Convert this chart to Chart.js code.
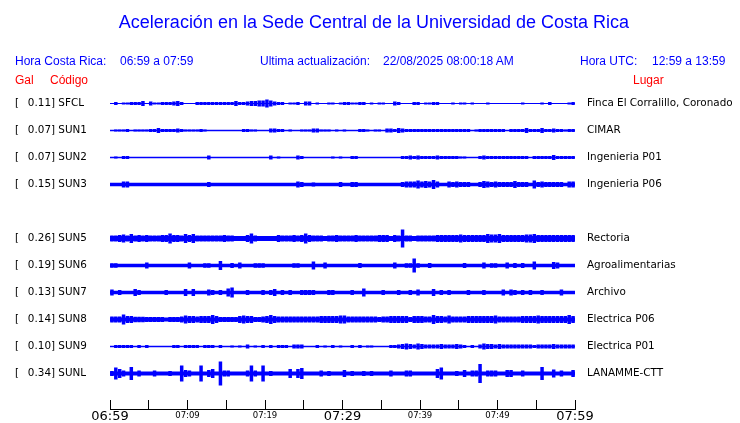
<!DOCTYPE html>
<html><head><meta charset="utf-8">
<script src="https://cdn.jsdelivr.net/npm/chart.js@4"></script>
<style>
html,body{margin:0;padding:0;background:#fff;overflow:hidden;width:740px;height:423px}
#wrap{position:relative;width:740px;height:423px;overflow:hidden;background:#fff}
canvas{position:absolute;left:0;top:0}
.t{position:absolute;font-family:"Liberation Sans",Arial,sans-serif;white-space:pre;color:#0000ff;font-size:12px;line-height:12px}
.r{color:#ff0000}
</style></head><body><div id="wrap">
<canvas id="c" width="740" height="433"></canvas>
<div class="t" style="left:0;width:748px;text-align:center;top:13px;font-size:18px;line-height:18px">Aceleración en la Sede Central de la Universidad de Costa Rica</div>
<div class="t" style="left:15px;top:55px">Hora Costa Rica:</div>
<div class="t" style="left:120px;top:55px">06:59 a 07:59</div>
<div class="t" style="left:260px;top:55px">Ultima actualización:</div>
<div class="t" style="left:383px;top:55px">22/08/2025 08:00:18 AM</div>
<div class="t" style="left:580px;top:55px">Hora UTC:</div>
<div class="t" style="left:652px;top:55px">12:59 a 13:59</div>
<div class="t r" style="left:15px;top:74px">Gal</div>
<div class="t r" style="left:50px;top:74px">Código</div>
<div class="t r" style="left:633px;top:74px">Lugar</div>
</div>
<script>
// ---- data ----
const codes  = ['SFCL','SUN1','SUN2','SUN3','SUN5','SUN6','SUN7','SUN8','SUN9','SUNL'];
const places = ['Finca El Corralillo, Coronado','CIMAR','Ingenieria P01','Ingenieria P06','Rectoria','Agroalimentarias','Archivo','Electrica P06','Electrica P01','LANAMME-CTT'];
const gal    = [0.11,0.07,0.07,0.15,0.26,0.19,0.13,0.14,0.10,0.34];
const rows   = [0,1,2,3,5,6,7,8,9,10];           // row of each station (row 4 empty)
const noiseFloor = [0.5,0.75,0.75,1.7,2.5,1.8,1.8,2,0.7,2];
const timeLabels = ['06:59','07:09','07:19','07:29','07:39','07:49','07:59'];
const binMinutes = 0.5;  // envelope bins of 30 s over 60 minutes

const ampSFCL = [0,1.5,0,1,1,1.5,1.5,1.5,2.5,0,
 2,1,1,1.5,1.5,1.5,2,2.5,1.5,0,
 0,0,1.5,1.5,1.5,1.5,1.5,1.5,1.5,1.5,
 1.5,1.5,2.5,1.5,1.5,2,2.5,2.5,3,3,
 4,3,2,1.5,1.5,0,1,1,1.5,0,
 2,2,0,1,0,0,1,1,0,1,
 1.5,1.5,1,1,1.5,1.5,0,1,0,1,
 1,0,0,2,1.5,0,0,0,1.5,1.5,
 0,1,1,1.5,1.5,0,0,0,1,0,
 1,1,0,1,0,0,0,1,0,0,
 0,0,0,0,0,0,1,0,0,0,
 0,1,0,1.5,0,0,0,0,1,1.5];
const ampSUN1 = [0,1,1,1,1.5,0,1,1,1,1,
 1.5,1.5,2.5,1.5,1.5,1.5,1.5,2,1.5,1,
 1,1,1,1.5,1,0,0,0,0,0,
 0,0,0,0,1.5,1.5,1,1,0,0,
 0,2,2,1.5,1.5,0,1,0,0,1,
 1,1,2,2,1,1,1,0,1,0,
 1,0,0,0,1.5,1.5,1,0,1,1,
 0,2,2,1.5,2.5,2,1.5,1.5,1.5,1.5,
 1.5,1.5,1.5,1.5,1.5,1.5,1.5,1.5,1.5,1.5,
 1.5,1.5,1.5,0,1,1.5,1.5,1.5,1.5,1.5,
 1.5,1.5,0,1.5,1.5,1.5,1.5,2.5,1.5,1.5,
 1.5,2.5,1.5,1.5,2,1.5,1.5,1,1.5,1.5];
const ampSUN2 = [0,1,0,1.5,1.5,0,0,0,0,0,
 0,0,0,0,0,0,0,0,0,0,
 0,0,0,0,0,2,0,0,0,0,
 0,0,0,0,0,0,0,0,0,0,
 0,2,0,1,0,0,0,0,2,1.5,
 0,0,0,0,0,0,0,1,0,1,
 0,0,1.5,1.5,0,0,0,0,0,0,
 0,0,0,0,0,1.5,1.5,2,1.5,2,
 1.5,1.5,1.5,1.5,2,1.5,1.5,1.5,1.5,1.5,
 1,1,0,0,0,1.5,2,1.5,1.5,1.5,
 1.5,1.5,1.5,1.5,1.5,1.5,1.5,1.5,0,1.5,
 1.5,1.5,1.5,1.5,2.5,1.5,1.5,1.5,1.5,1.5];
const ampSUN3 = [0,0,0,3,3,0,0,0,0,0,
 0,0,0,0,0,0,0,0,0,0,
 0,0,0,0,0,2.5,0,0,0,0,
 0,0,0,0,0,0,0,0,0,0,
 0,0,0,0,0,0,0,0,3,2.5,
 0,0,2,0,0,0,0,0,0,2.5,
 0,0,2.5,2.5,0,0,0,0,0,0,
 0,0,0,0,0,2.5,3,3,3,4,
 3,3.5,3,4.5,3,0,0,3,2.5,3,
 2.5,2.5,2.5,0,0,2.5,3.5,3,2.5,3,
 2.5,2.5,2.5,2.5,3.5,2.5,2.5,2.5,0,4,
 2.5,3,2.5,2.5,2.5,2.5,2.5,0,3,3];
const ampSUN5 = [3,3,3.5,4,3,4.5,3,3.5,3,3.5,
 3,3,3,3.5,3.5,5,3.5,3.5,3,4.5,
 3.5,4.5,3,3,3,3,3,3,3,3.5,
 3,3,0,2.5,0,3.5,5,3,0,2.5,
 0,2.5,0,3.5,3,3,3,3.5,3,3.5,
 5,3.5,3,3,3,2.5,3,3,3.5,3,
 3,3,3,3.5,3,3,3,3,3,3.5,
 3.5,3.5,0,3.5,3,9,3,3,2.5,3,
 3,3,3,3,3.5,3.5,3.5,3.5,3.5,3.5,
 4,3.5,3.5,3.5,3.5,3.5,3.5,4.5,4,4,
 4.5,3.5,3.5,3.5,3.5,3.5,3.5,4,4,4.5,
 3.5,3.5,3.5,3.5,3.5,3.5,3.5,3.5,3.5,3.5];
const ampSUN6 = [2.2,2.2,0,0,0,0,0,0,0,3,
 0,0,0,0,0,0,0,0,0,0,
 3,0,0,0,2.3,2.3,0,0,4.5,0,
 0,2.5,0,3,0,0,0,2.3,2.3,2.3,
 0,0,0,0,0,0,0,2.3,2.3,0,
 0,0,4,0,0,3,0,0,0,0,
 0,0,0,0,2.5,0,0,0,0,0,
 0,0,0,3,0,0,2.3,2.3,7,2.3,
 0,0,2.5,0,0,0,0,0,0,0,
 0,2.5,0,0,0,0,3,0,2.3,2.3,
 0,0,3,0,2.5,0,2.5,0,0,4,
 0,0,0,0,3.5,3,0,0,0,0];
const ampSUN7 = [3,0,2.5,0,0,0,3.5,2.5,0,0,
 0,0,0,0,2.5,0,0,0,0,3.5,
 0,3.5,0,0,0,3,2.5,0,2.5,0,
 4,5,0,0,0,2.5,0,0,0,2.5,
 0,2.5,3.5,0,2.5,0,2.5,0,0,2.5,
 2.5,2.5,2.5,0,0,0,2.5,2.5,0,0,
 0,0,2.5,0,0,4,0,0,0,0,
 2.5,0,0,0,2.5,0,0,2.5,0,3,
 0,0,0,3.5,0,2.5,0,2.5,0,0,
 0,0,2.5,0,0,0,2.5,0,0,0,
 0,3,0,3,2.5,0,2.5,0,2.5,0,
 0,2.5,0,0,0,0,3,0,0,0];
const ampSUN8 = [3,3,3,5,3.5,3.5,2.8,2.8,2.8,2.5,
 2.5,2.5,2.5,2.5,0,2.5,2.5,2.5,3,4,
 3.5,3.5,3,3.5,3.5,3.5,4.5,3.5,2.5,2.5,
 2.5,2.5,2.5,3.5,4,3.5,3.5,2.5,2.5,3,
 3.5,4.5,3.5,3,3,3,3,3,3,3,
 3,3,3,3,3.5,3.5,3.5,3.5,3.5,4,
 4,3,3,3,3,3,3,3,3,2.5,
 3,3,3.5,3.5,3.5,3.5,3.5,2.5,3.5,3.5,
 3.5,3,3,4.5,3.5,3.5,3,4,3,3,
 3,3,3.5,3.5,3.5,3.5,3.5,3.5,3.5,4,
 3,3,3,3,3,3,3.5,3.5,3.5,3.5,
 4,3.5,3.5,3.5,3.5,3.5,3.5,3.5,4.5,3.5];
const ampSUN9 = [0,1.5,1.5,1.5,1.5,1.5,0,1.5,0,1.5,
 0,0,0,0,0,0,1.5,1.5,0,1.5,
 1.5,1.5,1.5,0,1.5,1.5,1.5,0,1.5,0,
 0,1,0,1,0,2,0,1,0,1.5,
 0,1.5,0,1.5,1.5,1.5,0,2,2,2,
 0,0,0,1.5,0,1,0,1.5,0,1,
 0,0,1.5,0,1.5,0,1,1,0,0,
 0,0,1.5,1.5,2,2.5,3,2.5,2,3,
 2.5,2,2,2,2,2.5,2,2,2,2.5,
 2,1.5,0,1.5,0,2,3,2.5,2.5,2,
 2.5,2,2,2,2,2,2,2,2,1.5,
 2,2,2,2,2.5,2,2,2,2,2];
const ampSUNL = [2.5,6,4.5,3,0,6.5,0,3,0,0,
 0,3,0,0,0,2.5,0,0,8,3.5,
 3,0,0,8,0,3.5,4.5,0,12,3,
 3,0,0,0,0,3,8,3,0,8,
 0,2.5,0,0,0,0,4.5,0,4.5,5.5,
 0,0,0,0,3,0,2.5,0,0,0,
 3.5,0,2.5,0,0,2.5,0,2.5,0,0,
 0,0,3,0,0,0,3,3,0,0,
 0,0,0,0,4.5,6,0,0,0,2.5,
 0,3.5,0,3,3,9.5,0,3,3,3,
 0,0,3.5,3.5,0,0,3,0,0,0,
 0,6.5,0,0,4,0,3,0,0,3.5];
const amps = [ampSFCL, ampSUN1, ampSUN2, ampSUN3, ampSUN5, ampSUN6, ampSUN7, ampSUN8, ampSUN9, ampSUNL];

// ---- chart ----
const BLUE = '#0000ff';
const ROW = 27;           // vertical units between station rows
const datasets = [];
codes.forEach((code, k) => {
  const y0 = rows[k] * ROW;
  datasets.push({
    type: 'line', label: code + ' floor',
    data: [{x: 0, y: y0}, {x: 60, y: y0}],
    borderColor: BLUE, borderWidth: 2 * noiseFloor[k], pointRadius: 0,
    borderCapStyle: 'butt', order: 1
  });
  datasets.push({
    type: 'bar', label: code,
    data: amps[k].map((a, i) => a > 0 ? {x: (i + 0.5) * binMinutes, y: [y0 - a, y0 + a]} : null).filter(Boolean),
    backgroundColor: BLUE, borderWidth: 0, borderSkipped: false,
    grouped: false, categoryPercentage: 1, barPercentage: 0.9, order: 0
  });
});

const labelPlugin = {
  id: 'stationLabels',
  afterDraw(chart) {
    const ctx = chart.ctx, ys = chart.scales.y, area = chart.chartArea;
    ctx.save();
    ctx.font = '10.4px "DejaVu Sans"';
    ctx.fillStyle = '#000';
    ctx.textBaseline = 'middle';
    codes.forEach((code, k) => {
      const py = ys.getPixelForValue(rows[k] * ROW);
      ctx.textAlign = 'left';  ctx.fillText('[', 15, py);
      ctx.textAlign = 'right'; ctx.fillText(gal[k].toFixed(2), 51, py);
      ctx.textAlign = 'left';  ctx.fillText('] ' + code, 51, py);
      ctx.fillText(places[k], area.right + 12, py);
    });
    ctx.restore();
  }
};

new Chart(document.getElementById('c'), {
  type: 'bar',
  data: {datasets},
  options: {
    responsive: false, animation: false, events: [],
    layout: {padding: {left: 110, right: 165, top: 77.5, bottom: 0}},
    plugins: {legend: {display: false}, tooltip: {enabled: false}},
    scales: {
      x: {
        type: 'linear', min: 0, max: 60, offset: false,
        border: {display: true, color: '#000', width: 1},
        grid: {display: true, drawOnChartArea: false, drawTicks: true, tickLength: -9, color: '#000', offset: false},
        ticks: {
          stepSize: 5, autoSkip: false, maxRotation: 0, padding: 8, color: '#000',
          callback: (v) => v % 10 === 0 ? timeLabels[v / 10] : '',
          font: (ctx) => (ctx.tick && ctx.tick.value % 30 === 0)
            ? {family: 'DejaVu Sans', size: 13, lineHeight: '17px'}
            : {family: 'DejaVu Sans', size: 8.5, lineHeight: '14.6px'}
        }
      },
      y: {type: 'linear', display: false, reverse: true, min: -26, max: 305.5, stacked: false}
    }
  },
  plugins: [labelPlugin]
});
</script>
</body></html>
